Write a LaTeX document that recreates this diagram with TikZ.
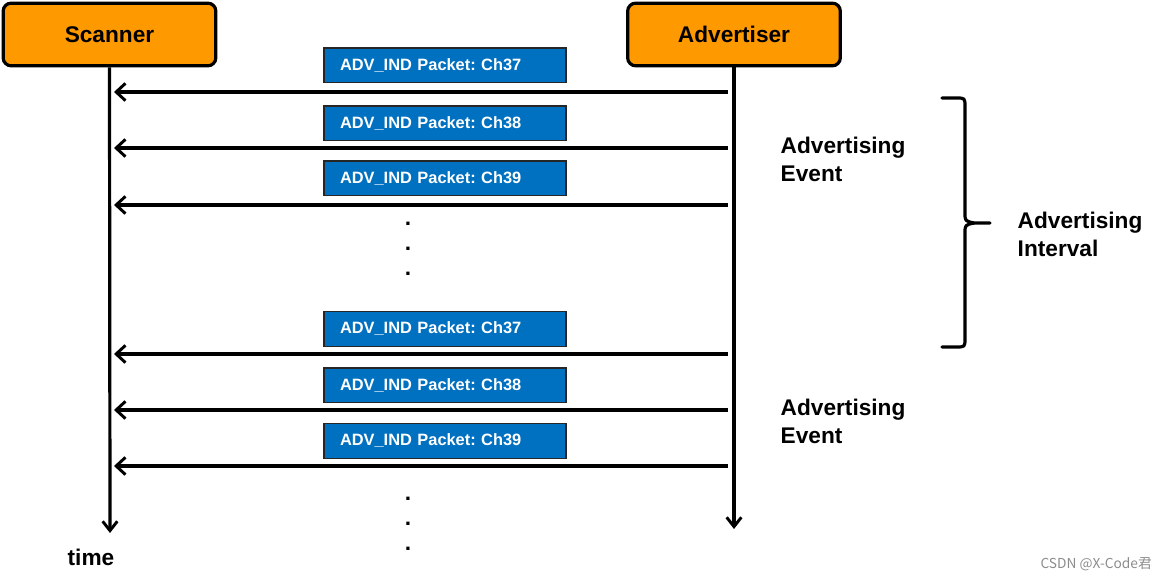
\documentclass[tikz,border=0pt]{standalone}
\usepackage{fontspec}
\setmainfont{Liberation Sans}
\newfontfamily\cjkfont{Noto Sans CJK SC}
\usetikzlibrary{arrows.meta}
\definecolor{boxorange}{HTML}{FF9900}
\definecolor{pktblue}{HTML}{0070C0}
\definecolor{wmgray}{HTML}{8C8C8C}
\tikzset{
  actor/.style={draw=black, line width=2.4pt, fill=boxorange, rounded corners=6pt,
    minimum width=159.5pt, minimum height=47pt, font=\fontsize{17}{20}\selectfont\bfseries},
  lifeline/.style={line width=2.4pt, -{Straight Barb[length=7pt,width=11pt,line width=2.2pt]}},
  msg/.style={line width=2.4pt, -{Straight Barb[length=7pt,width=13pt,line width=2.2pt]}},
  packet/.style={draw=black!85, line width=1pt, fill=pktblue, text=white,
    minimum width=181.5pt, minimum height=26pt, text width=157.5pt, inner xsep=12pt,
    align=left, font=\fontsize{12.3}{14}\selectfont\bfseries},
  lbl/.style={anchor=west, align=left, font=\fontsize{17}{21}\selectfont\bfseries},
  dotlbl/.style={font=\fontsize{17}{20}\selectfont\bfseries, inner sep=0pt},
  bracepath/.style={line width=2.4pt, line cap=round, line join=round}
}
\begin{document}
\begin{tikzpicture}[x=0.75pt,y=-0.75pt]
\useasboundingbox (0,0) rectangle (1168,580);
% actors
\node[actor] (scan) at (109.5,34.5) {Scanner};
\node[actor] (adv) at (734,34.5) {Advertiser};
% lifelines
\coordinate (scanend) at (110,533);
\coordinate (advend) at (734,529);
\draw[lifeline] (scan.south) -- (scanend);
\draw[lifeline] (adv.south) -- (advend);
% messages
\foreach \i/\y in {1/92,2/148,3/205,4/354,5/410,6/466}{
  \coordinate (a\i) at (728,\y);
  \coordinate (s\i) at (114,\y);
  \draw[msg] (a\i) -- (s\i);
}
% packets
\node[packet] (p1) at (445,65.5) {ADV\_IND Packet:\ Ch37};
\node[packet] (p2) at (445,123.5) {ADV\_IND Packet:\ Ch38};
\node[packet] (p3) at (445,178.5) {ADV\_IND Packet:\ Ch39};
\node[packet] (p4) at (445,329) {ADV\_IND Packet:\ Ch37};
\node[packet] (p5) at (445,385.5) {ADV\_IND Packet:\ Ch38};
\node[packet] (p6) at (445,441) {ADV\_IND Packet:\ Ch39};
% dots
\node[dotlbl] (d1) at (408,224) {.};
\node[dotlbl] (d2) at (408,249) {.};
\node[dotlbl] (d3) at (408,274) {.};
\node[dotlbl] (d4) at (408,499) {.};
\node[dotlbl] (d5) at (408,524) {.};
\node[dotlbl] (d6) at (408,549) {.};
% labels
\node[lbl] (ev1) at (776,159) {Advertising\\Event};
\node[lbl] (ev2) at (776,421) {Advertising\\Event};
\node[lbl] (intv) at (1013,234) {Advertising\\Interval};
\node[font=\fontsize{17}{20}\selectfont\bfseries] (time) at (91,557) {time};
% brace
\draw[bracepath] (942,98) -- (956,98) .. controls (965,98) .. (965,107) -- (965,213)
  .. controls (965,221) .. (974,223) -- (990,223);
\draw[bracepath] (974,223) .. controls (965,225) .. (965,233) -- (965,338)
  .. controls (965,347) .. (956,347) -- (942,347);
% watermark
\node[anchor=east, text=wmgray, font=\cjkfont\fontsize{10.3}{12}\selectfont, inner sep=0pt] (wm) at (1152,564) {CSDN @X-Code君};
\end{tikzpicture}
\end{document}
